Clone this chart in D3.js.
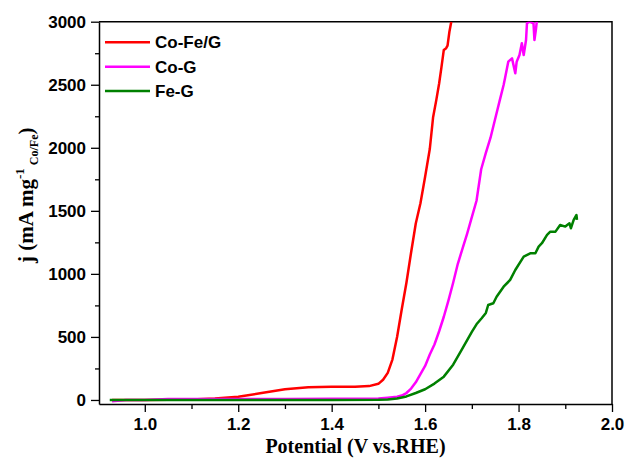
<!DOCTYPE html>
<html>
<head>
<meta charset="utf-8">
<script src="https://cdn.jsdelivr.net/npm/d3@7"></script>
<style>
  body { margin: 0; background: #fff; }
  .tick text { font-family: "Liberation Sans", Arial, sans-serif; font-weight: bold; font-size: 17px; fill: #000; }
  .tick line { stroke: #000; stroke-width: 1.3; }
  .domain { stroke: #000; stroke-width: 1.5; }
</style>
</head>
<body>
<div id="chart"></div>
<script>
// series
const coFeV = [0.93, 1.0, 1.05, 1.1, 1.15, 1.2, 1.25, 1.3, 1.35, 1.4, 1.45, 1.48, 1.5, 1.51, 1.52, 1.53, 1.54, 1.55, 1.56, 1.57, 1.58, 1.59, 1.6, 1.61, 1.617, 1.624, 1.63, 1.635, 1.64, 1.645, 1.648, 1.652, 1.656]
const coFeJ = [0, 0, 1, 4, 12, 26, 55, 85, 100, 104, 104, 110, 128, 160, 215, 320, 500, 720, 930, 1170, 1400, 1560, 1770, 1990, 2240, 2380, 2510, 2640, 2776, 2790, 2810, 2920, 3000]

const coV = [0.93, 0.96, 1.0, 1.05, 1.2, 1.3, 1.4, 1.5, 1.52, 1.54, 1.55, 1.56, 1.57, 1.58, 1.59, 1.6, 1.61, 1.62, 1.63, 1.64, 1.65, 1.66, 1.67, 1.68, 1.69, 1.7, 1.71, 1.72, 1.73, 1.74, 1.75, 1.76, 1.768, 1.771, 1.778, 1.786, 1.793, 1.796, 1.802, 1.807, 1.811, 1.816, 1.818, 1.823, 1.832, 1.834, 1.837, 1.839]
const coJ = [-10, 0, 0, 8, 8, 8, 10, 12, 18, 25, 35, 55, 90, 140, 205, 270, 360, 440, 545, 660, 790, 930, 1080, 1200, 1320, 1450, 1580, 1830, 1960, 2080, 2230, 2380, 2498, 2551, 2683, 2709, 2591, 2683, 2736, 2829, 2736, 2855, 2987, 3000, 2987, 2855, 2934, 3000]

const feV = [0.925, 1.0, 1.1, 1.2, 1.3, 1.4, 1.5, 1.52, 1.54, 1.56, 1.58, 1.6, 1.62, 1.64, 1.66, 1.68, 1.7, 1.71, 1.721, 1.73, 1.735, 1.746, 1.753, 1.768, 1.782, 1.793, 1.811, 1.825, 1.836, 1.843, 1.85, 1.861, 1.868, 1.879, 1.889, 1.9, 1.909, 1.912, 1.918, 1.924, 1.925]
const feJ = [0, 0, 0, 0, 0, 0, 1, 4, 12, 28, 55, 85, 130, 185, 280, 410, 540, 600, 648, 690, 753, 767, 819, 898, 952, 1031, 1137, 1163, 1163, 1216, 1243, 1309, 1335, 1335, 1388, 1375, 1401, 1362, 1428, 1467, 1428]

const seriesNames = ["Co-Fe/G", "Co-G", "Fe-G"]
const seriesColors = ["#ff0000", "#ff00ff", "#008000"]
const xTicks = [1.0, 1.2, 1.4, 1.6, 1.8, 2.0]
const yTicks = [0, 500, 1000, 1500, 2000, 2500, 3000]

const svgWidth = 629, svgHeight = 460
const margin = { top: 21.7, right: 17, bottom: 56, left: 99 }
const width = svgWidth - margin.left - margin.right
const height = svgHeight - margin.top - margin.bottom

const svg = d3.select("#chart").append("svg")
    .attr("width", svgWidth)
    .attr("height", svgHeight)
    .style("background", "#fff")

const g = svg.append("g")
    .attr("transform", `translate(${margin.left}, ${margin.top})`)

const x = d3.scaleLinear().domain([0.902, 2.0]).range([0, width])
const y = d3.scaleLinear().domain([-32, 3000]).range([height, 0])

g.append("defs").append("clipPath").attr("id", "clip")
    .append("rect").attr("width", width).attr("height", height)

// minor ticks
g.append("g")
    .attr("transform", `translate(0, ${height})`)
    .call(d3.axisBottom(x).tickValues(d3.range(1.1, 2.0, 0.2)).tickSize(5).tickFormat(""))
    .call(a => a.select(".domain").remove())
g.append("g")
    .call(d3.axisLeft(y).tickValues(d3.range(250, 3000, 500)).tickSize(4).tickFormat(""))
    .call(a => a.select(".domain").remove())

// major axes
g.append("g")
    .attr("transform", `translate(0, ${height})`)
    .call(d3.axisBottom(x).tickValues(xTicks).tickSize(8).tickSizeOuter(0).tickPadding(6).tickFormat(d3.format(".1f")))
g.append("g")
    .call(d3.axisLeft(y).tickValues(yTicks).tickSize(8).tickSizeOuter(0).tickPadding(5).tickFormat(d3.format("d")))

// top and right frame
g.append("path")
    .attr("d", `M0,0H${width}V${height}`)
    .attr("fill", "none").attr("stroke", "#000").attr("stroke-width", 1.5)

const line = d3.line().x(d => x(d[0])).y(d => y(d[1]))
const series = [d3.zip(coFeV, coFeJ), d3.zip(coV, coJ), d3.zip(feV, feJ)]

g.append("g").attr("clip-path", "url(#clip)")
    .selectAll("path")
    .data(series)
    .enter()
    .append("path")
    .attr("d", line)
    .attr("fill", "none")
    .attr("stroke", (d, i) => seriesColors[i])
    .attr("stroke-width", 2.5)
    .attr("stroke-linejoin", "round")

// legend
const legend = g.selectAll(".legend")
    .data(seriesNames)
    .enter()
    .append("g")
    .attr("transform", (d, i) => `translate(6, ${20.6 + i * 24.4})`)
legend.append("line")
    .attr("x1", 0).attr("x2", 45)
    .attr("stroke", (d, i) => seriesColors[i])
    .attr("stroke-width", 2.5)
legend.append("text")
    .attr("x", 50)
    .attr("dy", "0.35em")
    .style("font-family", "Liberation Sans, Arial, sans-serif")
    .style("font-weight", "bold")
    .style("font-size", "17px")
    .text(d => d)

// axis titles
svg.append("text")
    .attr("x", margin.left + width / 2)
    .attr("y", 453)
    .attr("text-anchor", "middle")
    .style("font-family", "Liberation Serif, Times New Roman, serif")
    .style("font-weight", "bold")
    .style("font-size", "20px")
    .text("Potential (V vs.RHE)")

const yTitle = svg.append("text")
    .attr("transform", "translate(33, 263) rotate(-90)")
    .style("font-family", "Liberation Serif, Times New Roman, serif")
    .style("font-weight", "bold")
    .style("font-size", "21px")
yTitle.append("tspan").text("j (mA mg")
yTitle.append("tspan").attr("dy", -9).style("font-size", "13px").text("-1")
yTitle.append("tspan").attr("dy", 14).style("font-size", "12px").text(" Co/Fe")
yTitle.append("tspan").attr("dy", -5).text(")")
</script>
</body>
</html>
